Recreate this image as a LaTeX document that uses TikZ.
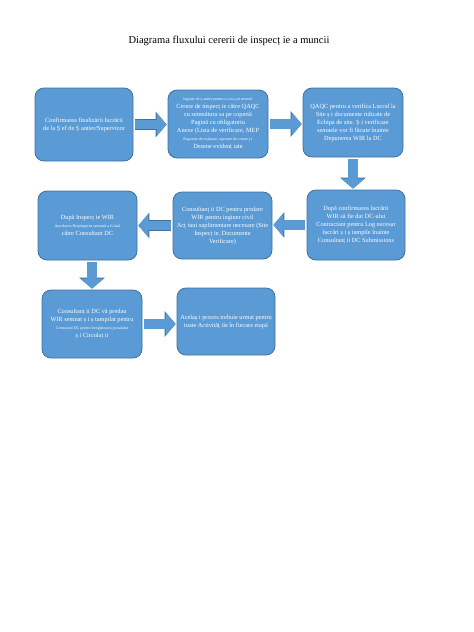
\documentclass[tikz,border=0pt]{standalone}
\usepackage{fontspec}
\setmainfont{Liberation Serif}
\usepackage{xcolor}
\usetikzlibrary{arrows.meta, positioning}
\definecolor{boxblue}{HTML}{5B9BD5}
\definecolor{boxedge}{HTML}{41719C}
\newcommand{\tinyline}[1]{{\fontsize{4}{5}\selectfont #1}}

\begin{document}
\begin{tikzpicture}[x=1pt, y=-1pt,
  flowbox/.style={draw=boxedge, fill=boxblue, rounded corners=9pt, line width=0.8pt,
    text=white, align=center, inner sep=1pt, font=\fontsize{6.3}{8}\selectfont},
  flowarrow/.style={draw=boxblue, line width=9.5pt, -{Triangle[width=23pt,length=10pt]},
    shorten <=2pt, shorten >=1pt,
    preaction={draw=boxedge, line width=10.5pt, -{Triangle[width=25pt,length=11pt]}}}]
\useasboundingbox (0,0) rectangle (474,632);
\node (title) at (229,41) {\fontsize{10.5}{12}\selectfont Diagrama fluxului cererii de inspecț ie a muncii};
% first row
\node [flowbox, minimum width=98pt, minimum height=73pt] (confirm) at (84,124.5)
  {Confirmarea finalizării lucrării\\ de la Ș ef de Ș antier/Supervizor};
\node [flowbox, minimum width=100pt, minimum height=68pt] (request) at (218,124)
  {\tinyline{Inginer de ș antier pentru a crea ș te muncii}\\ Cerere de inspecț ie către QAQC\\ cu semnătura sa pe copertă\\ Pagină cu obligatoriu\\ Anexe (Lista de verificare, MEP\\ \tinyline{Rapoarte de evaluare, rapoarte de cotare ș i}\\ Desene evidenț iate};
\node [flowbox, minimum width=100pt, minimum height=69pt] (qaqc) at (353,122.5)
  {QAQC pentru a verifica Lucrul la\\ Site ș i documente ridicate de\\ Echipa de site. Ș i verificare\\ semnele vor fi făcute înainte\\ Depunerea WIR la DC};
% second row
\node [flowbox, minimum width=98pt, minimum height=70pt] (after) at (356,225)
  {După confirmarea lucrării\\ WIR să fie dat DC-ului\\ Contractant pentru Log necesar\\ lucrări ș i ș tampile înainte\\ Consultanț ii DC Submissions};
\node [flowbox, minimum width=99pt, minimum height=67pt] (handover) at (222.5,225.5)
  {Consultanț ii DC pentru predare\\ WIR pentru inginer civil\\ Acț iuni suplimentare necesare (Site\\ Inspecț ie, Documente\\ Verificare)};
\node [flowbox, minimum width=99pt, minimum height=69pt] (approval) at (87.5,225.5)
  {După Inspecț ie WIR\\ \tinyline{Aprobarea Respingerea semnată a fi dată}\\ către Consultant DC};
% third row
\node [flowbox, minimum width=100pt, minimum height=68pt] (signed) at (92,324)
  {Consultanț ii DC vă predau\\ WIR semnat ș i ș tampilat pentru\\ \tinyline{Contractul DC pentru înregistrarea jurnalului}\\ ș i Circulaț ii};
\node [flowbox, minimum width=98pt, minimum height=67pt] (process) at (226,321.5)
  {Acelaș i proces trebuie urmat pentru\\ toate Activităț ile în fiecare etapă};
% block arrows
\draw [flowarrow] (confirm.east) -- (confirm.east -| request.west);
\draw [flowarrow] (request.east) -- (request.east -| qaqc.west);
\draw [flowarrow] (qaqc.south) -- (qaqc.south |- after.north);
\draw [flowarrow] (after.west) -- (after.west -| handover.east);
\draw [flowarrow] (handover.west) -- (handover.west -| approval.east);
\draw [flowarrow] (approval.south -| signed.north) -- (signed.north);
\draw [flowarrow] (signed.east) -- (signed.east -| process.west);
\end{tikzpicture}
\end{document}
